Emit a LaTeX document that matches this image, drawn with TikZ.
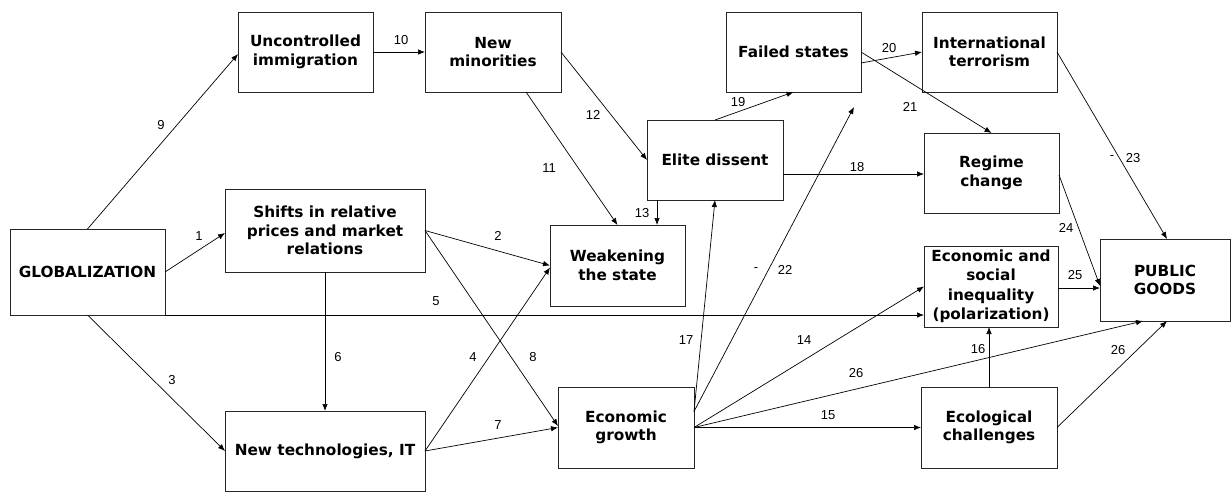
\documentclass[tikz,border=0pt]{standalone}
\usepackage{fontspec}
\setmainfont{DejaVu Sans}
\newfontfamily\lblfont{Liberation Sans}
\usetikzlibrary{arrows.meta}
\begin{document}
\begin{tikzpicture}[x=1pt,y=-1pt,
  box/.style={draw=black!85,line width=0.9pt,rectangle,inner sep=0pt,outer sep=0pt,align=center,
    font=\fontsize{15.3}{18.5}\selectfont\bfseries},
  lbl/.style={inner sep=0pt,font=\lblfont\fontsize{13}{13}\selectfont},
  conn/.style={line width=0.7pt,-{Latex[length=7pt,width=5.5pt]}},
  plain/.style={line width=0.7pt}]
\useasboundingbox[fill=white] (0,0) rectangle (1231,493);
% boxes
\node[box,minimum width=155pt,minimum height=86pt] (glob) at (87.5,272) {GLOBALIZATION};
\node[box,minimum width=135pt,minimum height=80pt] (unc) at (305.5,52) {Uncontrolled\\immigration};
\node[box,minimum width=200pt,minimum height=83pt] (shifts) at (325,230.5) {Shifts in relative\\prices and market\\relations};
\node[box,minimum width=200pt,minimum height=80pt] (tech) at (325,451) {New technologies, IT};
\node[box,minimum width=136pt,minimum height=80pt] (newmin) at (493,52) {New\\minorities};
\node[box,minimum width=136pt,minimum height=80pt] (elite) at (715,160) {Elite dissent};
\node[box,minimum width=135pt,minimum height=81pt] (weak) at (617.5,265.5) {Weakening\\the state};
\node[box,minimum width=135pt,minimum height=80pt] (failed) at (793.5,52) {Failed states};
\node[box,minimum width=135pt,minimum height=80pt] (terror) at (989.5,52) {International\\terrorism};
\node[box,minimum width=135pt,minimum height=80pt] (regime) at (991.5,173) {Regime\\change};
\node[box,minimum width=134pt,minimum height=81pt,font=\fontsize{15.3}{19.5}\selectfont\bfseries] (ineq) at (991,286.5) {Economic and\\social\\inequality\\(polarization)};
\node[box,minimum width=130pt,minimum height=82pt] (pg) at (1165,280) {PUBLIC\\GOODS};
\node[box,minimum width=136pt,minimum height=81pt] (eco) at (989,427.5) {Ecological\\challenges};
\node[box,minimum width=136pt,minimum height=81pt] (growth) at (626,427.5) {Economic\\growth};
\coordinate (end22) at (854,107);
% connectors
\draw[conn] (glob.north) -- ([yshift=-2pt]unc.west);
\draw[conn] (glob.east) -- ([yshift=-2.5pt]shifts.west);
\draw[conn] (glob.south) -- (tech.west);
\draw[conn] (glob.south east) -- (glob.south east -| ineq.west);
\draw[conn] (unc.east) -- (newmin.west);
\draw[conn] (shifts.south) -- (tech.north);
\draw[conn] (shifts.east) -- (weak.west);
\draw[conn] (shifts.east) -- ([yshift=1.5pt]growth.west);
\draw[conn] (tech.east) -- ([yshift=-2pt]weak.west);
\draw[conn] (tech.east) -- (growth.west);
\draw[conn] ([xshift=33pt]newmin.south) -- (weak.north);
\draw[conn] (newmin.east) -- (elite.west);
\draw[conn] ([xshift=-58pt]elite.south) -- ([xshift=-58pt]elite.south |- weak.north);
\draw[conn] (elite.north) -- (failed.south);
\draw[conn] ([yshift=-14pt]elite.east) -- ([yshift=-14pt]elite.east -| regime.west);
\draw[conn] ([yshift=-11pt]failed.east) -- (terror.west);
\draw[conn] (failed.east) -- (regime.north);
\draw[conn] (terror.east) -- ([xshift=2pt]pg.north);
\draw[conn] ([yshift=-2pt]regime.east) -- ([yshift=-6pt]pg.west);
\draw[conn] ([yshift=-1.5pt]ineq.east) -- ([yshift=-1.5pt]ineq.east -| pg.west);
\draw[conn] ([yshift=16pt]growth.east) -- (elite.south);
\draw[conn] ([yshift=16pt]growth.east) -- (end22);
\draw[conn] (growth.east) -- (ineq.west);
\draw[conn] (growth.east) -- ([xshift=-22pt]pg.south);
\draw[conn] (growth.east) -- (eco.west);
\draw[conn] (eco.north) -- (eco.north |- ineq.south);
\draw[conn] (eco.east) -- ([xshift=2pt]pg.south);
% labels
\node[lbl] (l9) at (161,125) {9};
\node[lbl] (l1) at (199,236) {1};
\node[lbl] (l10) at (401,40) {10};
\node[lbl] (l3) at (172,380) {3};
\node[lbl] (l6) at (338,357) {6};
\node[lbl] (l5) at (436,301) {5};
\node[lbl] (l2) at (498,236) {2};
\node[lbl] (l4) at (473,357) {4};
\node[lbl] (l8) at (533,357) {8};
\node[lbl] (l7) at (498,425) {7};
\node[lbl] (l11) at (549,168) {11};
\node[lbl] (l12) at (593,115) {12};
\node[lbl] (l13) at (642,213) {13};
\node[lbl] (l19) at (738,102) {19};
\node[lbl] (l17) at (686,340) {17};
\node[lbl] (l22m) at (756,270) {-};
\node[lbl] (l22) at (785,270) {22};
\node[lbl] (l14) at (804,340) {14};
\node[lbl] (l20) at (889,48) {20};
\node[lbl] (l21) at (910,107) {21};
\node[lbl] (l18) at (857,167) {18};
\node[lbl] (l23m) at (1112,158) {-};
\node[lbl] (l23) at (1133,158) {23};
\node[lbl] (l24) at (1066,228) {24};
\node[lbl] (l25) at (1075,275) {25};
\node[lbl] (l16) at (978,349) {16};
\node[lbl] (l26a) at (856,373) {26};
\node[lbl] (l26b) at (1118,350) {26};
\node[lbl] (l15) at (828,415) {15};
\end{tikzpicture}
\end{document}
